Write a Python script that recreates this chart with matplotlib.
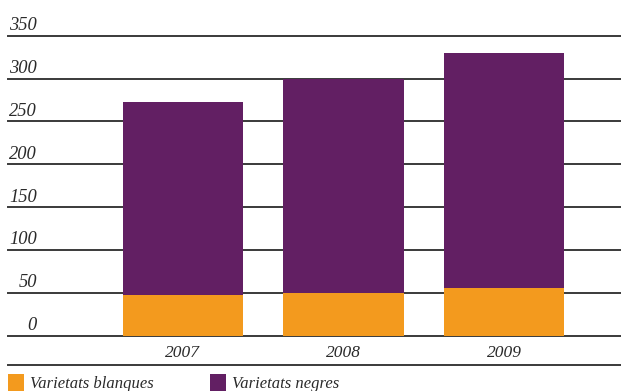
import matplotlib.pyplot as plt
from matplotlib.lines import Line2D

years = ['2007', '2008', '2009']
blanques = [47, 50, 56]
negres_total = [273, 299, 330]
negres = [t - b for t, b in zip(negres_total, blanques)]
ticks = [0, 50, 100, 150, 200, 250, 300, 350]

orange = '#F39A1E'
purple = '#621F63'
line_col = '#3a3a3a'
text_col = '#2a2a2a'

W, H = 621, 391
fig = plt.figure(figsize=(W / 100, H / 100), dpi=100)
# axes in pixel terms: x 8..621, y 35.7..335.7
ax = fig.add_axes([8 / W, (H - 335.7) / H, (W - 8) / W, 300 / H])
ax.set_ylim(0, 350)
ax.set_xlim(-1.09, 2.729)
ax.axis('off')

for t in ticks:
    ax.axhline(t, color=line_col, lw=1.4, zorder=1, clip_on=False)

x = range(len(years))
ax.bar(x, blanques, width=0.748, color=orange, label='Varietats blanques', zorder=2)
ax.bar(x, negres, width=0.748, bottom=blanques, color=purple, label='Varietats negres', zorder=2)

font = dict(family='Liberation Serif', style='italic', color=text_col)
for t in ticks:
    ax.annotate(str(t), xy=(0.0473, t), xycoords=('axes fraction', 'data'),
                xytext=(0, 4), textcoords='offset points',
                ha='right', va='baseline', fontsize=13.3, **font)

for i, y in enumerate(years):
    ax.annotate(y, xy=(i, 0), xycoords='data', xytext=(0, -15.3), textcoords='offset points',
                ha='center', va='baseline', fontsize=12.5, **font)

fig.add_artist(Line2D([8 / W, 1], [1 - 365 / H] * 2, color=line_col, lw=1.4))

leg = fig.legend(loc='upper left', bbox_to_anchor=(8 / W, 1 - 374 / H), ncol=2, frameon=False,
                 handlelength=0.96, handleheight=1.25, handletextpad=0.36, columnspacing=3.4,
                 borderaxespad=0, borderpad=0,
                 prop=dict(family='Liberation Serif', style='italic', size=12))
for txt in leg.get_texts():
    txt.set_color(text_col)

fig.savefig('out.png', dpi=100)
